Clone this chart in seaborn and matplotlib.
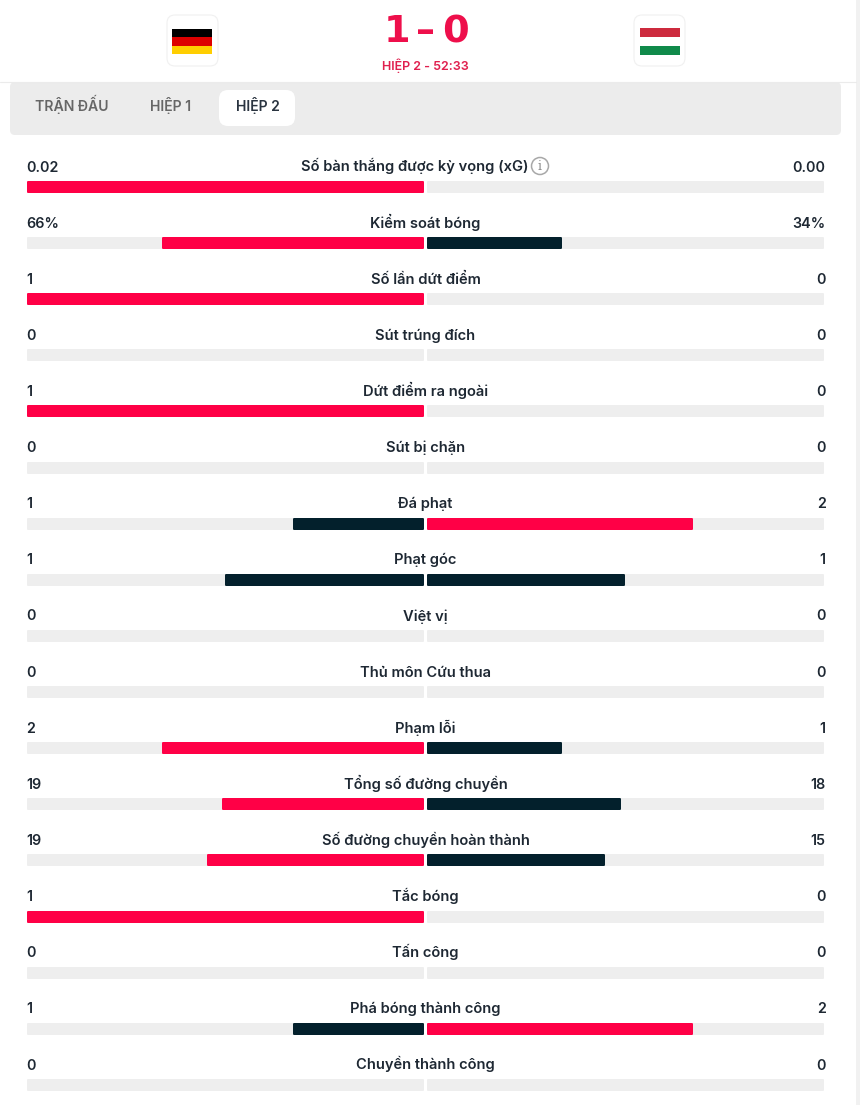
import matplotlib
matplotlib.use("Agg")
import matplotlib.pyplot as plt
from matplotlib.patches import FancyBboxPatch, Rectangle, Circle
import pandas as pd
import seaborn as sns

# Data
stats = ["Số bàn thắng được kỳ vọng (xG)", "Kiểm soát bóng", "Số lần dứt điểm", "Sút trúng đích",
         "Dứt điểm ra ngoài", "Sút bị chặn", "Đá phạt", "Phạt góc", "Việt vị", "Thủ môn Cứu thua",
         "Phạm lỗi", "Tổng số đường chuyền", "Số đường chuyền hoàn thành", "Tắc bóng", "Tấn công",
         "Phá bóng thành công", "Chuyền thành công"]
home_labels = ["0.02", "66%", "1", "0", "1", "0", "1", "1", "0", "0", "2", "19", "19", "1", "0", "1", "0"]
away_labels = ["0.00", "34%", "0", "0", "0", "0", "2", "1", "0", "0", "1", "18", "15", "0", "0", "2", "0"]
# bar lengths, in percent of the half track
home_share = [100, 65.8, 100, 0, 100, 0, 32.7, 49.9, 0, 0, 65.8, 50.6, 54.4, 100, 0, 32.7, 0]
away_share = [0, 33.7, 0, 0, 0, 0, 66.8, 49.6, 0, 0, 33.7, 48.6, 44.6, 0, 0, 66.8, 0]
# which side the page paints red
home_leads = [True, True, True, False, True, False, False, False, False, False, True, True, True, True, False, False, False]
away_leads = [False, False, False, False, False, False, True, False, False, False, False, False, False, False, False, True, False]
tabs = ["TRẬN ĐẤU", "HIỆP 1", "HIỆP 2"]
score = ["1", "–", "0"]
match_time = "HIỆP 2 - 52:33"

RED = "#FF0046"
DARK = "#03202C"
TRACK = "#EEEEEE"
TEXT = "#1E2833"

sns.set_theme(style="white")
plt.rcParams["font.family"] = ["Inter", "DejaVu Sans"]

W, H = 860, 1105
fig = plt.figure(figsize=(W / 100, H / 100), dpi=100, facecolor="white")

# page furniture is laid out in pixels
page = fig.add_axes([0, 0, 1, 1])
page.set_xlim(0, W)
page.set_ylim(H, 0)
page.axis("off")

page.add_patch(Rectangle((856, 0), 4, H, color="#F1F1F1", lw=0))
page.plot([0, 856], [82, 82], color="#EBEBEB", lw=0.8)
page.add_patch(FancyBboxPatch((13, 85), 825, 47, boxstyle="round,pad=3,rounding_size=5", fc="#ECECEC", ec="none"))
page.add_patch(FancyBboxPatch((222, 93), 70, 30, boxstyle="round,pad=3,rounding_size=9", fc="white", ec="none"))

for box_x in [167, 634]:
    page.add_patch(FancyBboxPatch((box_x + 5, 20), 41, 41, boxstyle="round,pad=5,rounding_size=8",
                                  fc="white", ec="#F0F0F0", lw=0.8))

for y, colour in zip([29, 37, 45.5], ["#000000", "#DD0000", "#FFCE00"]):
    page.add_patch(Rectangle((171.5, y), 40, 8.5 if y != 29 else 8, color=colour, lw=0))
for y, colour in zip([28, 37, 46], ["#CD2A3E", "#FFFFFF", "#108A4A"]):
    page.add_patch(Rectangle((639.5, y), 40, 9, color=colour, lw=0))

for x, s in zip([396.5, 425, 455], score):
    page.text(x, 42.5, s, ha="center", va="baseline", fontsize=27.5, fontweight="bold", color="#EE0F4B",
              family="DejaVu Sans")
page.text(425.5, 70, match_time, ha="center", va="baseline", fontsize=9, fontweight="semibold", color="#E0204F")

for x, s, c in zip([71.5, 171, 257.5], tabs, ["#666666", "#666666", "#2A3440"]):
    page.text(x, 111.5, s, ha="center", va="baseline", fontsize=10.1, fontweight="semibold", color=c)

row_step = 56.125
first_row = 187
for i, stat in enumerate(stats):
    y = first_row + i * row_step - 15.5
    x = 414.5 if i == 0 else 425.5
    page.text(x, y, stat, ha="center", va="baseline", fontsize=10.6, fontweight="semibold", color=TEXT)
    page.text(26, y, home_labels[i], ha="left", va="baseline", fontsize=10.3, fontweight="semibold", color=TEXT)
    page.text(825.5, y, away_labels[i], ha="right", va="baseline", fontsize=10.3, fontweight="semibold", color=TEXT)

# info icon beside the xG title
page.add_patch(Circle((540, 166), 8.5, fc="white", ec="#A8A8A8", lw=1.1))
page.text(540, 166, "i", ha="center", va="center", fontsize=9, color="#888888", family="DejaVu Serif")

# stat bars, one table and two mirrored axes
df = pd.DataFrame({"stat": stats, "home_share": home_share, "away_share": away_share})
df["home_colour"] = pd.Series(home_leads).map({True: "lead", False: "other"})
df["away_colour"] = pd.Series(away_leads).map({True: "lead", False: "other"})
df["track"] = 100

palette = {"lead": RED, "other": DARK}
bar_width = 10 / row_step


def round_bars(ax):
    # same colour edge with round joins gives the small corner radius
    for bar in ax.patches:
        if bar.get_width() == 0:
            bar.set_visible(False)
        bar.set_edgecolor(bar.get_facecolor())
        bar.set_linewidth(1.44)
        bar.set_joinstyle("round")
        bar.set_clip_on(False)


def stat_axes(left, right, share, colour):
    ax = fig.add_axes([left / W, 0, (right - left) / W, 1 - 159 / H])
    ax.patch.set_alpha(0)
    sns.barplot(data=df, x="track", y="stat", order=stats, color=TRACK, width=bar_width, saturation=1, ax=ax)
    sns.barplot(data=df, x=share, y="stat", order=stats, hue=colour, hue_order=["lead", "other"], palette=palette,
                dodge=False, width=bar_width, saturation=1, legend=False, ax=ax)
    round_bars(ax)
    ax.set_ylim((H - first_row) / row_step, (159 - first_row) / row_step)
    ax.axis("off")
    return ax


ax_home = stat_axes(28, 423, "home_share", "home_colour")
ax_home.set_xlim(100, 0)
ax_away = stat_axes(428, 823, "away_share", "away_colour")
ax_away.set_xlim(0, 100)

fig.savefig("out.png", dpi=100)
